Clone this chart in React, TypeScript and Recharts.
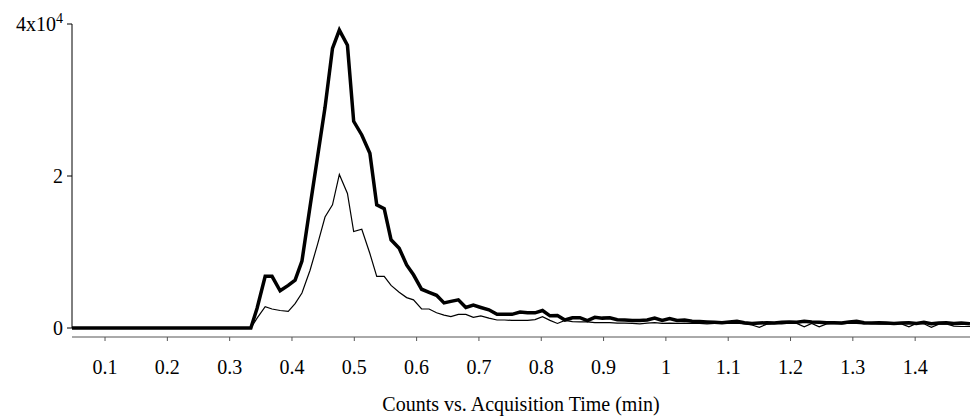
import React from 'react'
import {
  LineChart,
  Line,
  XAxis,
  YAxis,
  ReferenceLine,
  Label,
} from 'recharts'

// acquisition time (min)
const times = [
  0.047, 0.1, 0.2, 0.3, 0.334, 0.344, 0.357, 0.368, 0.381, 0.394,
  0.405, 0.416, 0.429, 0.441, 0.453, 0.465, 0.476, 0.489, 0.499, 0.512,
  0.525, 0.536, 0.548, 0.559, 0.572, 0.584, 0.595, 0.608, 0.62, 0.632,
  0.644, 0.655, 0.667, 0.679, 0.691, 0.703, 0.716, 0.729, 0.741, 0.753,
  0.766,
  0.778, 0.79, 0.802, 0.814, 0.826, 0.838, 0.85, 0.862, 0.874, 0.886,
  0.898, 0.91, 0.922, 0.934, 0.946, 0.958, 0.97, 0.982, 0.994, 1.006,
  1.018, 1.03, 1.042, 1.054, 1.066, 1.078, 1.09, 1.102, 1.114, 1.126,
  1.138, 1.15, 1.162, 1.174, 1.186, 1.198, 1.21, 1.222, 1.234, 1.246,
  1.258, 1.27, 1.282, 1.294, 1.306, 1.318, 1.33, 1.342, 1.354, 1.366,
  1.378, 1.39, 1.402, 1.414, 1.426, 1.438, 1.45, 1.462, 1.474, 1.488,
]

// counts, heavy trace
const upperTrace = [
  0, 0, 0, 0, 0, 2600, 6800, 6800, 4900, 5600,
  6300, 8800, 16000, 22500, 29000, 36800, 39200, 37200, 27200, 25400,
  23000, 16200, 15700, 11600, 10500, 8300, 7000, 5100, 4700, 4300,
  3300, 3500, 3700, 2700, 3000, 2700, 2400, 1800, 1800, 1800,
  2100,
  2000, 2000, 2300, 1600, 1650, 1050, 1350, 1350, 960, 1400,
  1300, 1350, 1100, 1050, 1000, 1000, 1050, 1300, 1000, 1250,
  1000, 1050, 900, 850, 800, 750, 700, 800, 900, 700,
  600, 650, 700, 650, 750, 800, 750, 900, 800, 750,
  700, 700, 650, 800, 900, 700, 650, 700, 650, 600,
  650, 700, 600, 750, 550, 650, 700, 600, 650, 550,
]

// counts, light trace
const lowerTrace = [
  0, 0, 0, 0, 0, 1300, 2800, 2500, 2300, 2200,
  3200, 4600, 7600, 11000, 14600, 16200, 20200, 17700, 12700, 13000,
  9800, 6800, 6800, 5600, 4700, 4000, 3700, 2500, 2500, 2000,
  1700, 1500, 1800, 1800, 1400, 1600, 1300, 1050, 1050, 1000,
  1000,
  1000, 1100, 1500, 1000, 600, 1000, 850, 800, 800, 700,
  700, 700, 650, 650, 600, 550, 650, 700, 600, 650,
  600, 650, 600, 600, 550, 600, 650, 600, 650, 550,
  400, 100, 500, 600, 550, 650, 600, 150, 600, 150,
  550, 600, 550, 650, 600, 550, 600, 550, 500, 600,
  550, 150, 600, 550, 100, 500, 550, 250, 200, 200,
]

const xTicks = [0.1, 0.2, 0.3, 0.4, 0.5, 0.6, 0.7, 0.8, 0.9, 1, 1.1, 1.2, 1.3, 1.4]
const yTicks = [0, 20000, 40000]

const data = times.map((t, i) => ({
  t,
  upper: upperTrace[i],
  lower: lowerTrace[i],
}))

const FONT = '"Liberation Serif", "Times New Roman", serif'

function YTick({ x, y, payload }: any) {
  const v = payload.value
  if (v === 40000) {
    return (
      <text x={x} y={y} dy="0.355em" textAnchor="end" fontFamily={FONT} fontSize={20} fill="#000">
        4x10<tspan dy={-8} fontSize={14}>4</tspan>
      </text>
    )
  }
  return (
    <text x={x} y={y} dy="0.355em" textAnchor="end" fontFamily={FONT} fontSize={20} fill="#000">
      {v / 10000}
    </text>
  )
}

export default function App() {
  return (
    <div style={{ position: 'absolute', left: 0, top: 0, background: '#fff' }}>
      <LineChart
        width={970}
        height={417}
        data={data}
        margin={{ top: 24, right: 0, left: 0, bottom: 0 }}
      >
        <XAxis
          dataKey="t"
          type="number"
          domain={[0.047, 1.488]}
          allowDataOverflow
          ticks={xTicks}
          tickFormatter={(v: number) => String(v)}
          tickSize={4}
          tickMargin={19}
          height={80}
          axisLine={{ stroke: '#555' }}
          tickLine={{ stroke: '#555' }}
          tick={{ fill: '#000', fontSize: 20, fontFamily: FONT }}
        >
          <Label
            value="Counts vs. Acquisition Time (min)"
            position="insideBottom"
            offset={6}
            style={{ fill: '#000', fontSize: 20, fontFamily: FONT }}
          />
        </XAxis>
        <YAxis
          type="number"
          domain={[-1184, 40000]}
          ticks={yTicks}
          width={72}
          axisLine={false}
          tickSize={5}
          tickMargin={4}
          tickLine={{ stroke: '#000' }}
          tick={<YTick />}
        />
        <ReferenceLine
          segment={[
            { x: 0.047, y: 0 },
            { x: 0.047, y: 40000 },
          ]}
          stroke="#000"
          ifOverflow="visible"
        />
        <Line
          type="linear"
          dataKey="lower"
          stroke="#000"
          strokeWidth={1.2}
          dot={false}
          isAnimationActive={false}
        />
        <Line
          type="linear"
          dataKey="upper"
          stroke="#000"
          strokeWidth={3.5}
          dot={false}
          isAnimationActive={false}
        />
      </LineChart>
    </div>
  )
}
